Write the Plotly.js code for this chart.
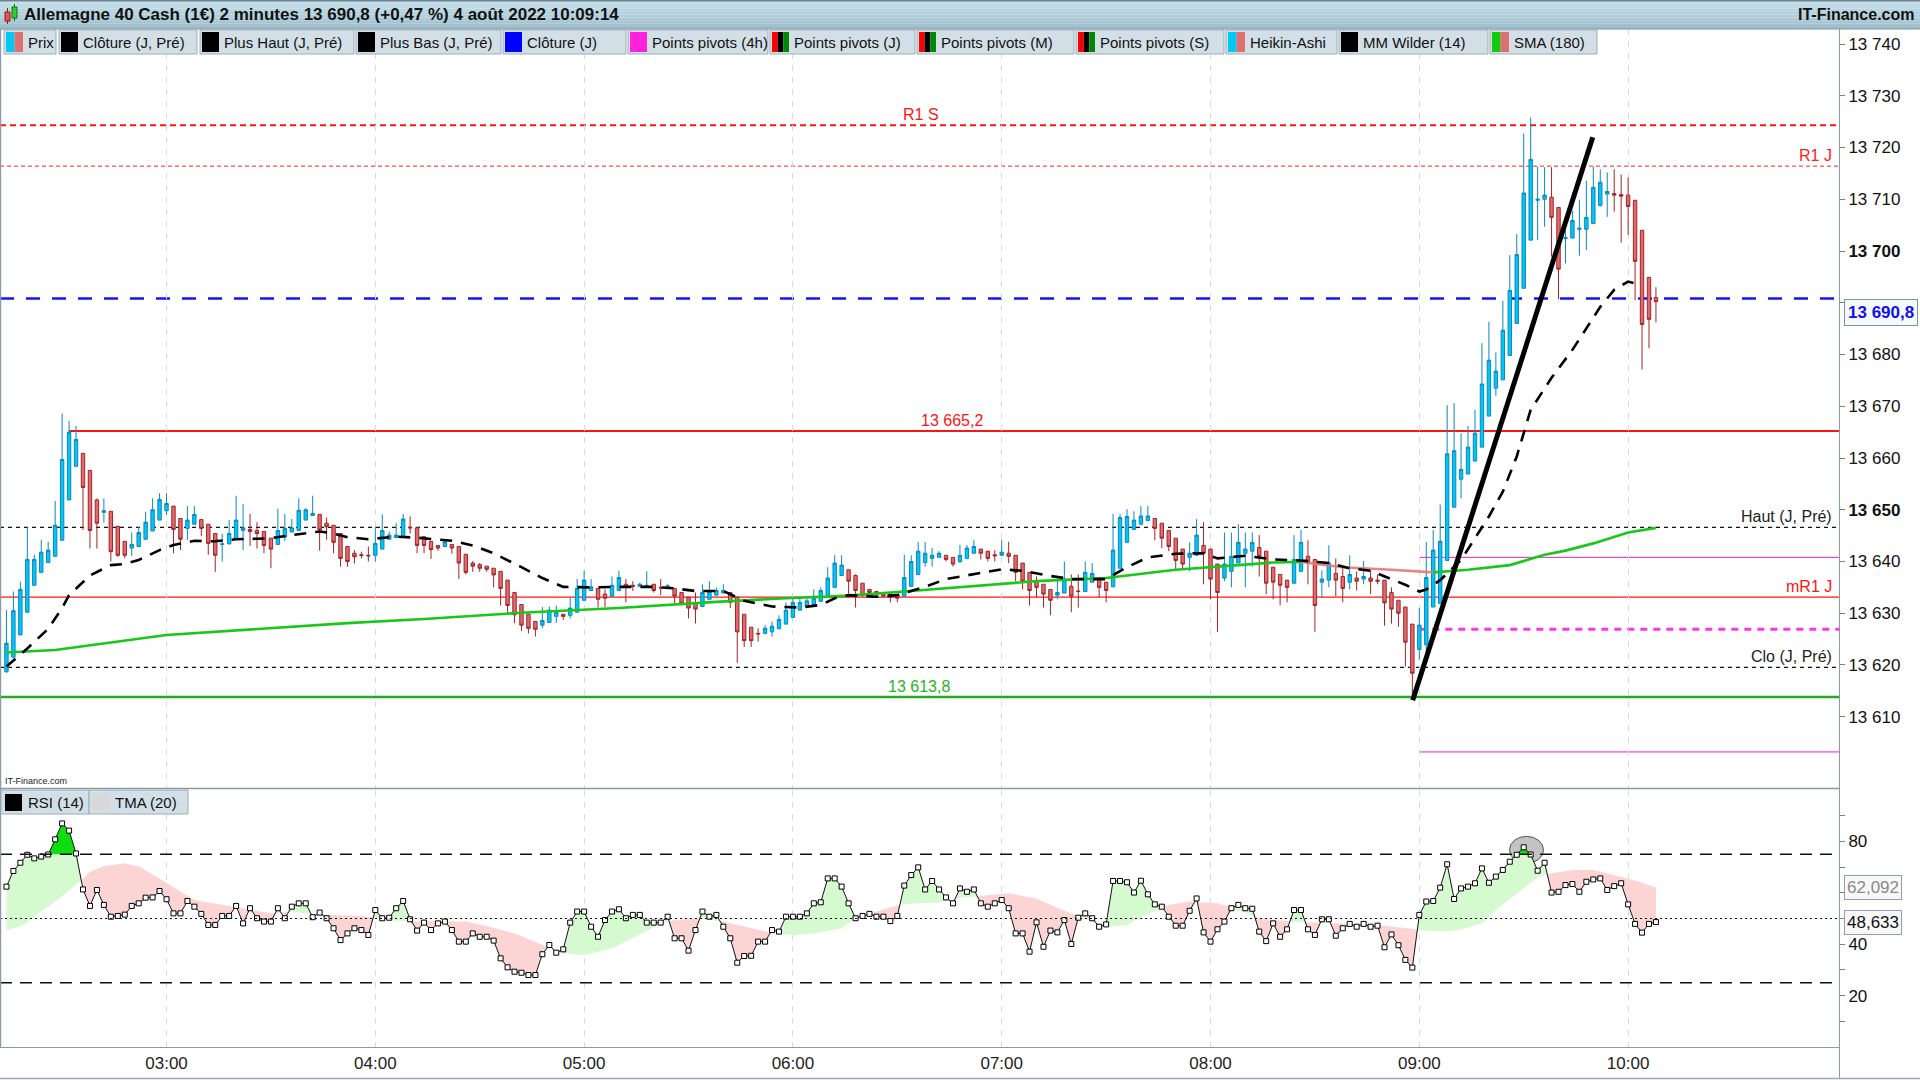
<!DOCTYPE html>
<html><head><meta charset="utf-8">
<script src="https://cdn.plot.ly/plotly-3.0.1.min.js"></script>
<style>html,body{margin:0;padding:0;background:#fff;overflow:hidden}#chart{width:1920px;height:1080px}</style>
</head><body><div id="chart"></div>
<script>
// ---------- DATA ----------
const barStart = '2022-08-04 02:14';
const barMinutes = 2;
const openP = [
13618.7,13621.5,13625.8,13630.2,13635.4,13637.9,13639.8,13641.0,13644.1,13651.9,
13658.4,13660.9,13657.6,13651.9,13649.5,13649.7,13646.8,13643.9,13642.6,13642.9,
13644.3,13645.9,13648.0,13649.8,13650.7,13648.3,13646.4,13647.2,13648.1,13647.2,
13645.4,13643.3,13643.4,13644.3,13646.0,13646.2,13646.0,13645.8,13644.5,13643.3,
13644.7,13645.7,13646.0,13648.0,13648.9,13649.1,13647.4,13647.0,13645.4,13642.9,
13641.6,13641.3,13641.2,13641.2,13642.4,13644.3,13644.6,13644.8,13646.6,13646.5,
13644.8,13643.9,13643.1,13642.9,13643.3,13642.9,13641.4,13639.7,13639.4,13639.1,
13638.7,13638.1,13636.4,13634.0,13631.7,13629.8,13628.4,13627.7,13628.2,13629.4,
13629.8,13629.6,13630.2,13632.5,13634.4,13634.8,13633.7,13633.3,13634.4,13635.6,
13635.4,13635.2,13635.0,13635.6,13635.0,13634.8,13634.8,13634.0,13633.1,13631.9,
13631.3,13632.7,13633.5,13633.9,13634.0,13633.1,13629.8,13627.3,13626.1,13626.1,
13626.4,13627.0,13627.9,13629.2,13630.6,13631.3,13631.7,13632.3,13633.5,13635.0,
13637.3,13638.4,13637.3,13635.8,13634.6,13634.2,13634.0,13633.7,13633.5,13633.3,
13635.2,13637.5,13639.8,13640.6,13640.8,13641.2,13640.8,13640.0,13640.6,13641.6,
13642.4,13642.0,13641.3,13641.2,13641.6,13641.2,13639.7,13637.9,13636.2,13635.6,
13634.6,13633.5,13633.9,13635.2,13634.3,13634.2,13636.0,13636.9,13636.0,13635.1,
13638.7,13643.7,13646.2,13647.2,13647.9,13648.3,13647.4,13646.0,13644.5,13642.4,
13640.8,13641.2,13643.1,13642.4,13639.5,13636.8,13638.1,13639.7,13641.6,13642.0,
13642.7,13642.0,13638.9,13637.5,13636.4,13635.8,13638.1,13641.0,13640.4,13636.0,
13636.4,13637.7,13637.1,13636.0,13636.8,13636.6,13636.8,13636.4,13636.4,13634.0,
13632.5,13631.2,13627.9,13623.0,13623.9,13631.2,13631.9,13640.2,13650.5,13655.9,
13656.9,13659.4,13662.1,13668.1,13673.5,13675.1,13679.8,13686.0,13692.8,13702.1,
13709.8,13710.0,13710.4,13708.4,13702.4,13702.5,13704.2,13704.2,13705.3,13708.8,
13711.0,13711.1,13710.9,13710.8,13709.8,13704.0,13694.9,13691.0];
const highP = [
13630.6,13634.2,13636.1,13646.6,13641.3,13644.2,13643.8,13651.7,13668.6,13667.2,
13666.2,13660.9,13657.6,13652.2,13652.2,13649.7,13646.8,13643.9,13645.6,13646.7,
13649.6,13652.2,13653.2,13653.2,13650.7,13648.3,13650.7,13650.7,13648.1,13647.2,
13645.4,13645.4,13648.0,13652.7,13651.1,13649.2,13647.6,13645.8,13644.5,13650.2,
13649.2,13648.2,13652.2,13650.3,13652.7,13649.1,13648.5,13647.0,13645.4,13642.9,
13642.2,13641.9,13642.9,13646.7,13649.1,13645.8,13647.4,13649.2,13648.7,13646.5,
13644.8,13643.9,13643.1,13644.0,13643.3,13642.9,13641.4,13640.1,13639.7,13639.1,
13638.7,13638.1,13636.4,13634.0,13631.7,13629.8,13628.4,13631.2,13631.3,13631.5,
13629.8,13633.1,13636.6,13638.2,13636.6,13634.8,13634.6,13637.1,13638.2,13636.6,
13636.2,13635.9,13638.1,13635.6,13636.6,13635.6,13634.8,13634.0,13633.1,13634.0,
13635.6,13636.2,13635.0,13635.6,13634.0,13633.1,13629.8,13627.3,13627.1,13627.7,
13628.4,13629.6,13632.1,13633.1,13633.1,13633.1,13634.6,13635.0,13638.9,13641.2,
13641.2,13638.4,13637.5,13635.8,13634.6,13634.2,13634.0,13634.0,13633.5,13641.3,
13641.2,13643.8,13643.8,13642.6,13642.0,13641.2,13640.8,13643.2,13643.2,13644.2,
13642.4,13642.0,13642.2,13644.2,13643.8,13641.2,13639.7,13637.9,13637.1,13635.6,
13634.6,13636.2,13640.0,13637.5,13637.5,13640.0,13639.7,13636.9,13636.0,13649.2,
13649.2,13650.1,13649.7,13650.7,13650.7,13648.3,13647.4,13646.0,13644.5,13642.4,
13643.7,13648.2,13647.6,13642.4,13639.5,13645.6,13645.6,13647.2,13645.6,13645.6,
13645.1,13642.0,13638.9,13637.5,13636.4,13645.1,13646.1,13644.1,13640.4,13638.3,
13643.1,13640.6,13639.1,13641.2,13638.1,13640.1,13638.3,13637.5,13636.4,13635.0,
13632.5,13631.2,13627.9,13631.0,13643.8,13646.1,13651.0,13670.2,13670.6,13664.8,
13666.2,13669.3,13682.2,13686.3,13680.4,13690.4,13699.2,13703.3,13722.7,13725.8,
13716.3,13716.2,13716.2,13708.4,13704.1,13707.8,13709.9,13713.6,13716.3,13715.8,
13715.2,13715.8,13714.8,13714.2,13709.8,13704.0,13694.9,13693.0];
const lowP = [
13618.5,13621.5,13625.8,13630.2,13635.4,13637.9,13639.8,13641.0,13644.1,13651.9,
13658.4,13646.1,13642.5,13642.5,13647.5,13640.0,13640.9,13640.6,13641.1,13642.9,
13644.3,13645.9,13648.0,13649.0,13641.6,13642.2,13644.2,13647.2,13644.9,13641.3,
13638.0,13640.0,13643.4,13644.3,13642.2,13643.0,13642.5,13641.6,13638.7,13643.3,
13644.0,13645.7,13646.0,13648.0,13648.9,13642.1,13644.2,13641.6,13639.0,13639.0,
13639.6,13640.6,13640.0,13640.0,13642.4,13644.3,13644.6,13644.8,13645.4,13641.6,
13641.6,13640.5,13642.1,13642.9,13641.5,13636.6,13637.5,13638.0,13638.0,13638.0,
13635.0,13631.5,13629.7,13628.1,13626.6,13626.1,13625.5,13627.1,13628.2,13628.1,
13628.7,13629.0,13630.2,13632.5,13634.4,13631.1,13631.1,13633.3,13634.4,13632.1,
13634.3,13635.2,13635.0,13634.0,13633.5,13634.8,13631.6,13631.5,13629.0,13628.0,
13631.3,13632.7,13633.5,13633.9,13631.0,13620.4,13623.5,13623.5,13624.5,13626.1,
13625.5,13627.0,13627.9,13629.2,13630.6,13631.3,13631.7,13632.3,13633.5,13635.0,
13637.3,13633.8,13631.1,13633.1,13633.1,13633.1,13633.1,13632.1,13632.1,13633.3,
13635.2,13637.5,13639.0,13639.0,13640.8,13640.0,13639.0,13639.7,13640.6,13641.6,
13640.4,13640.0,13640.0,13641.2,13639.7,13636.2,13634.6,13631.5,13633.1,13631.1,
13629.6,13632.7,13633.9,13630.2,13631.1,13634.2,13636.0,13633.1,13632.1,13635.1,
13638.7,13643.7,13646.2,13647.2,13647.9,13644.1,13642.6,13642.0,13638.5,13638.5,
13638.1,13641.2,13635.6,13632.7,13626.4,13636.2,13635.0,13639.7,13635.0,13639.0,
13637.1,13633.7,13632.7,13631.5,13632.1,13635.8,13638.1,13635.6,13626.4,13633.1,
13635.0,13633.3,13632.1,13634.6,13634.4,13635.6,13633.7,13635.6,13627.6,13628.0,
13627.4,13619.7,13613.3,13621.0,13622.0,13631.2,13631.9,13640.2,13650.5,13652.2,
13656.9,13659.4,13662.1,13668.1,13672.0,13675.1,13679.8,13686.0,13692.8,13702.1,
13702.1,13704.7,13698.9,13690.7,13697.6,13702.5,13699.1,13700.2,13705.3,13708.6,
13706.6,13707.6,13701.6,13703.1,13690.5,13677.1,13681.2,13686.2];
const closeP = [
13624.2,13630.5,13634.6,13640.4,13640.4,13641.8,13642.2,13647.0,13659.7,13665.0,
13663.6,13654.3,13646.0,13647.4,13649.8,13641.9,13641.2,13641.2,13643.3,13645.6,
13647.6,13650.0,13652.0,13651.2,13646.2,13644.3,13648.0,13649.1,13646.4,13643.5,
13641.2,13643.4,13645.4,13648.0,13646.5,13645.8,13645.4,13643.1,13642.4,13646.0,
13646.4,13646.5,13649.9,13650.0,13649.3,13646.1,13646.7,13643.7,13640.6,13640.0,
13640.9,13641.2,13641.1,13643.5,13646.0,13645.1,13645.1,13648.2,13646.5,13643.1,
13643.1,13642.3,13642.6,13643.8,13642.6,13639.7,13637.9,13639.1,13638.7,13638.5,
13637.4,13634.8,13631.5,13629.7,13627.7,13627.1,13626.9,13628.6,13630.6,13630.2,
13629.4,13631.0,13634.8,13636.4,13635.1,13632.7,13632.9,13635.4,13636.9,13635.0,
13635.2,13635.6,13635.4,13634.4,13634.9,13635.3,13633.3,13631.9,13631.0,13630.8,
13634.0,13634.2,13634.4,13634.4,13632.1,13626.4,13624.7,13624.7,13626.0,13627.1,
13627.5,13628.8,13630.6,13632.1,13632.1,13632.4,13632.9,13634.4,13636.8,13639.7,
13639.3,13636.2,13634.4,13633.5,13634.0,13633.7,13633.3,13633.1,13632.9,13636.9,
13640.0,13642.0,13641.6,13641.2,13641.6,13640.4,13639.5,13641.2,13642.6,13642.9,
13641.6,13640.6,13641.1,13641.8,13641.0,13637.9,13636.2,13634.4,13635.0,13633.7,
13632.5,13634.0,13636.6,13633.3,13634.2,13637.9,13637.7,13635.0,13634.4,13642.2,
13648.5,13648.7,13648.0,13648.8,13648.8,13646.4,13644.5,13642.9,13640.2,13639.5,
13641.6,13645.1,13641.6,13636.6,13634.0,13639.5,13641.0,13643.7,13642.4,13643.7,
13641.0,13635.8,13636.0,13635.4,13635.0,13640.4,13643.7,13639.8,13631.5,13636.6,
13639.7,13636.4,13634.8,13637.5,13636.2,13637.1,13636.2,13636.2,13632.0,13630.8,
13630.0,13624.4,13618.4,13627.7,13636.9,13642.2,13643.9,13660.8,13661.4,13657.8,
13662.1,13664.8,13674.3,13678.9,13676.8,13684.7,13692.4,13699.3,13711.2,13717.7,
13710.0,13710.8,13706.5,13696.5,13702.6,13705.9,13704.4,13706.5,13712.3,13713.3,
13711.5,13710.8,13710.6,13708.6,13698.0,13685.8,13686.8,13690.2];

const wilderBars = [0,3,6,8,9,12,15,17,19,22,24,27,30,33,36,38,41,45,47,49,52,56,59,64,67,70,74,77,80,84,88,93,96,99,103,106,110,114,117,119,121,125,128,132,135,139,143,146,150,153,158,161,164,168,172,174,178,182,186,190,193,196,199,201,203,204,206,209,211,213,215,217,219,222,225,227,229,231,233,235];
const wilderValues = [13619.7,13623.2,13627.0,13631.0,13633.5,13637.3,13639.3,13639.5,13640.3,13642.2,13643.2,13644.0,13643.9,13644.3,13644.4,13644.5,13645.1,13645.8,13645.4,13644.7,13644.3,13644.8,13644.6,13644.0,13643.1,13641.6,13638.9,13636.8,13635.1,13635.0,13635.1,13635.1,13634.8,13634.3,13634.3,13632.4,13631.3,13631.1,13631.6,13632.9,13633.5,13633.2,13633.5,13635.1,13636.6,13637.6,13638.5,13638.2,13637.2,13636.6,13636.6,13638.9,13640.8,13641.5,13641.6,13640.6,13641.1,13640.4,13640.2,13639.7,13638.7,13638.2,13636.6,13635.5,13634.2,13634.6,13636.4,13640.3,13644.5,13648.7,13653.5,13660.3,13669.3,13675.5,13680.9,13685.1,13689.2,13692.5,13694.1,13693.4];

const smaBars = [0,7,23,37,49,60,74,88,102,112,121,129,139,148,158,168,177,182,186,192,199,205,210,216,221,224,228,233,237];
const smaValues = [13622.4,13622.9,13625.8,13627.1,13628.1,13628.9,13630.1,13631.0,13632.2,13632.9,13633.4,13634.2,13635.3,13636.2,13636.8,13638.4,13639.3,13639.8,13639.9,13638.9,13638.4,13637.9,13638.4,13639.3,13641.3,13642.1,13643.5,13645.6,13646.5];

const rsiValues = [
62.4,68.5,71.7,74.8,73.4,74.1,74.9,80.8,87.0,84.2,
75.3,61.3,54.9,61.1,55.3,50.7,51.0,51.5,54.9,55.9,
58.1,58.2,60.7,57.5,52.0,52.0,56.8,54.6,51.8,47.5,
47.5,51.0,51.0,54.9,48.1,54.0,50.1,48.8,48.8,54.0,
50.1,54.6,55.9,55.9,50.5,52.3,50.1,46.2,41.6,44.2,
46.2,45.5,43.6,53.3,50.1,50.3,54.0,56.8,49.7,45.3,
48.4,45.5,48.1,48.8,45.5,41.0,41.0,44.2,42.9,42.9,
41.4,34.5,31.0,29.3,28.9,28.0,28.0,36.1,39.7,36.7,
38.0,48.4,52.7,52.7,46.8,42.9,49.4,52.7,53.6,50.1,
51.4,51.4,48.4,48.4,48.4,50.7,42.3,42.3,37.5,45.5,
52.7,50.7,51.4,46.8,42.3,32.8,35.4,35.5,41.0,41.0,
45.5,44.9,50.7,50.7,50.7,52.0,55.9,56.3,65.6,65.6,
62.4,55.9,50.1,51.0,51.8,50.7,50.7,49.0,51.0,62.8,
66.9,69.9,61.3,64.6,61.3,58.2,55.9,61.7,60.4,61.3,
55.9,54.6,55.9,57.2,54.0,44.2,44.2,37.1,48.5,39.0,
45.3,44.6,49.4,40.1,50.3,52.0,50.1,46.8,47.7,64.6,
64.6,64.1,60.1,64.7,59.4,55.5,54.6,50.7,47.2,47.2,
53.0,57.8,44.6,41.0,45.8,48.8,54.0,55.3,54.0,53.8,
44.9,41.2,48.1,42.9,45.8,53.3,53.3,45.8,43.6,49.7,
49.7,43.3,46.2,47.9,46.8,47.9,46.8,47.2,38.8,43.8,
39.6,33.9,30.9,51.4,56.6,56.8,62.0,71.1,57.6,61.7,
62.4,63.7,69.5,63.9,66.3,68.9,72.1,74.8,77.7,74.9,
68.6,71.7,60.1,60.4,63.0,63.4,60.4,64.3,65.2,65.6,
61.1,62.6,63.7,55.5,47.9,44.5,47.9,48.6];

const tmaBars = [0,2,4,7,10,12,14,17,19,22,25,27,31,34,38,41,44,48,52,55,58,62,66,69,73,77,80,83,87,91,94,96,99,103,106,110,113,116,120,122,125,128,130,134,137,141,144,148,151,155,158,161,163,167,170,174,177,180,184,188,192,197,200,203,207,209,212,214,217,220,222,225,228,230,233,235,237];
const tmaValues = [45.5,46.8,50.7,56.6,63.0,68.2,70.4,71.5,70.2,65.6,60.4,57.2,55.3,54.0,52.0,52.7,51.6,51.4,50.7,49.4,48.8,49.0,48.8,47.1,44.2,39.7,36.4,35.8,38.4,43.6,48.1,49.4,50.1,48.8,46.8,44.5,43.6,44.2,46.2,50.1,52.7,55.3,55.9,56.2,58.0,59.1,59.8,57.8,54.0,50.1,46.8,47.5,50.7,55.3,56.6,55.9,53.3,50.1,48.8,48.4,48.1,47.5,46.6,45.5,44.9,45.8,48.1,53.3,59.8,66.0,67.6,68.9,68.9,67.6,65.6,63.9,62.1];

const levelValues = [13724.3, 13716.4, 13690.8, 13665.2, 13646.6, 13640.8, 13633.1, 13626.9, 13619.55, 13613.8, 13603.2];
const levelLabels = ['R1 S', 'R1 J', '', '#', 'Haut (J, Pré)', '', 'mR1 J', '', 'Clo (J, Pré)', '#', ''];
const rsiLevels = [75, 50, 25];
const trendTimes = ['2022-08-04 08:58:06', '2022-08-04 09:49:50'];
const trendPrices = [13613.2, 13722.0];
const priceTicks = [13610,13620,13630,13640,13650,13660,13670,13680,13690,13700,13710,13720,13730,13740];
const rsiTicks = [10,20,30,40,50,60,70,80,90];
const rsiTickLabels = ['','20','','40','','','','80',''];
const hourTicks = ['03:00','04:00','05:00','06:00','07:00','08:00','09:00','10:00'];
const lastPrice = 13690.8, lastRsi = 48.633, lastTma = 62.092;
const titleText = 'Allemagne 40 Cash (1€) 2 minutes 13 690,8 (+0,47 %) 4 août 2022 10:09:14';
const legendNames = ['Prix','Clôture (J, Pré)','Plus Haut (J, Pré)','Plus Bas (J, Pré)','Clôture (J)','Points pivots (4h)','Points pivots (J)','Points pivots (M)','Points pivots (S)','Heikin-Ashi','MM Wilder (14)','SMA (180)'];

// ---------- HELPERS ----------
const W = 1920, H = 1080;
const px = x => x / W, py = y => 1 - y / H;
const baseMs = Date.parse(barStart.replace(' ', 'T') + ':00Z');
const stepMs = barMinutes * 60000;
const tstr = ms => new Date(ms).toISOString().slice(0, 23).replace('T', ' ');
const barT = i => tstr(baseMs + i * stepMs);
const N = openP.length;
const barTimes = openP.map((_, i) => barT(i));
const xr = ['2022-08-04 02:12:09', '2022-08-04 11:00:36'];
const frNum = (v, d) => { const s = v.toFixed(d).split('.'); const a = s[0].replace(/\B(?=(\d{3})+(?!\d))/g, ' '); return s[1] ? a + ',' + s[1] : a; };
const FONT = 'Liberation Sans, Arial, sans-serif';

const shapes = [], ann = [];
function rect(x0, y0, x1, y1, fill, lc, lw) {
  shapes.push({type:'rect', xref:'paper', yref:'paper', x0:px(x0), x1:px(x1), y0:py(y1), y1:py(y0),
    fillcolor:fill, line:{color:lc || fill, width:lw === undefined ? 0 : lw}, layer:'above'});
}
function hline(x0, x1, y, color, w) {
  shapes.push({type:'line', xref:'paper', yref:'paper', x0:px(x0), x1:px(x1), y0:py(y), y1:py(y), line:{color, width:w}, layer:'above'});
}
function vline(x, y0, y1, color, w) {
  shapes.push({type:'line', xref:'paper', yref:'paper', x0:px(x), x1:px(x), y0:py(y0), y1:py(y1), line:{color, width:w}, layer:'above'});
}
function text(x, y, t, size, color, xa, extra) {
  ann.push(Object.assign({xref:'paper', yref:'paper', x:px(x), y:py(y), text:t, showarrow:false,
    xanchor:xa || 'left', yanchor:'middle', font:{family:FONT, size, color}}, extra || {}));
}

// ---------- TITLE BAR ----------
const gTop = [198, 224, 235], gBot = [158, 190, 203];
for (let s = 0; s < 10; s++) {
  const f = s / 9; const c = gTop.map((v, j) => Math.round(v + (gBot[j] - v) * f));
  rect(0, s * 2.9, W, s * 2.9 + 3, `rgb(${c.join(',')})`);
}
hline(0, W, 0.8, '#6d838f', 1.6);
hline(0, W, 29, '#7d95a1', 1.2);
// icon
vline(7.5, 8, 24, '#8b1a1a', 1); rect(5, 12, 10, 21, '#e05555', '#8b1a1a', 1);
vline(14.5, 4, 21, '#127012', 1); rect(12, 7, 17, 18, '#33cc33', '#127012', 1);
text(22, 15, '<b>' + titleText + '</b>', 17, '#111');
text(1916, 15, '<b>IT-Finance.com</b>', 16, '#111', 'right');

// ---------- LEGEND ROW ----------
const legBoxes = [[4,56],[59,197],[200,354],[356,501],[503,626],[628,768],[770,915],[917,1074],[1076,1224],[1226,1337],[1339,1488],[1490,1597]];
const PIV = ['#ff0000','#000000','#008800'];
const legSw = [['#00c8f5','#e07070'],['#000'],['#000'],['#000'],['#0000ff'],['#ff22dd'],PIV,PIV,PIV,['#00c8f5','#e07070'],['#000'],['#10cc10','#e07070']];
legendNames.forEach((nm, i) => {
  const [a, b] = legBoxes[i];
  rect(a, 30, b, 54, '#d2dfe7', '#9badb8', 1);
  const sw = legSw[i], wEach = 17 / sw.length;
  sw.forEach((c, j) => rect(a + 2 + j * wEach, 32, a + 2 + (j + 1) * wEach, 52, c));
  text(a + 22, 42.5, nm, 15, '#111');
});

// ---------- MAIN PANEL ----------
const levelStyle = [
  {c:'#ff1414', w:2, d:'6px,4px', lx:921, la:'center'},
  {c:'#ff2020', w:1, d:'4px,3px', lx:1834, la:'right'},
  {c:'#1414ff', w:2.5, d:'14px,12px'},
  {c:'#ff1414', w:2, d:'solid', from:9, lx:952, la:'center'},
  {c:'#111111', w:1.2, d:'4px,4px', lx:1834, la:'right', lc:'#222'},
  {c:'#ee22cc', w:1, d:'solid', from:203},
  {c:'#ff1414', w:1.2, d:'solid', lx:1834, la:'right'},
  {c:'#ff33ee', w:3, d:'7px,6px', from:203},
  {c:'#111111', w:1.2, d:'4px,4px', lx:1834, la:'right', lc:'#222'},
  {c:'#22aa22', w:2.5, d:'solid', lx:919, la:'center', lc:'#1fb51f'},
  {c:'#ee22cc', w:1, d:'solid', from:203}
];
levelValues.forEach((v, i) => {
  const st = levelStyle[i];
  shapes.push({type:'line', xref:'x', yref:'y', x0: st.from !== undefined ? barTimes[st.from] : xr[0], x1:xr[1], y0:v, y1:v,
    line:{color:st.c, width:st.w, dash:st.d}, layer:'below'});
  if (levelLabels[i]) {
    const t = levelLabels[i] === '#' ? frNum(v, 1) : levelLabels[i];
    ann.push({xref:'paper', yref:'y', x:px(st.lx), y:v, text:t, showarrow:false, xanchor:st.la, yanchor:'bottom',
      yshift:0, font:{family:FONT, size:16, color:st.lc || st.c}});
  }
});
// trend line (drawing)
shapes.push({type:'line', xref:'x', yref:'y', x0:trendTimes[0], y0:trendPrices[0], x1:trendTimes[1], y1:trendPrices[1],
  line:{color:'#000', width:5}, layer:'above'});

const data = [];
data.push({type:'candlestick', x:barTimes, open:openP, high:highP, low:lowP, close:closeP, xaxis:'x', yaxis:'y',
  increasing:{fillcolor:'#00c6f4', line:{color:'#0a88c0', width:1}},
  decreasing:{fillcolor:'#e26a6a', line:{color:'#a0252a', width:1}},
  whiskerwidth:0, hoverinfo:'skip', showlegend:false});

// SMA 180: green when rising, salmon when falling
let segStart = 0;
for (let j = 1; j < smaBars.length; j++) {
  const dir = smaValues[j] >= smaValues[j - 1];
  const nextDir = j + 1 < smaBars.length ? smaValues[j + 1] >= smaValues[j] : null;
  if (nextDir === null || nextDir !== dir) {
    const idx = []; for (let k = segStart; k <= j; k++) idx.push(k);
    data.push({type:'scatter', mode:'lines', x:idx.map(k => barTimes[smaBars[k]]), y:idx.map(k => smaValues[k]),
      xaxis:'x', yaxis:'y', line:{color: dir ? '#18c818' : 'rgba(228,120,120,0.9)', width:2.6}, hoverinfo:'skip'});
    segStart = j;
  }
}
// MM Wilder
data.push({type:'scatter', mode:'lines', x:wilderBars.map(b => barTimes[b]), y:wilderValues, xaxis:'x', yaxis:'y',
  line:{color:'#000', width:2.6, dash:'12px,9px'}, hoverinfo:'skip'});

// ---------- RSI PANEL ----------
function tmaAt(i) {
  for (let j = 0; j < tmaBars.length - 1; j++) {
    if (i >= tmaBars[j] && i <= tmaBars[j + 1]) {
      const f = (i - tmaBars[j]) / (tmaBars[j + 1] - tmaBars[j]);
      return tmaValues[j] + f * (tmaValues[j + 1] - tmaValues[j]);
    }
  }
  return i < tmaBars[0] ? tmaValues[0] : tmaValues[tmaValues.length - 1];
}
function band(ref) {
  const pts = [];
  for (let i = 0; i < N; i++) {
    const r = rsiValues[i], t = ref(i);
    pts.push({i, r, t});
    if (i < N - 1) {
      const r2 = rsiValues[i + 1], t2 = ref(i + 1), d1 = r - t, d2 = r2 - t2;
      if (d1 * d2 < 0) { const f = d1 / (d1 - d2); const v = r + f * (r2 - r); pts.push({i:i + f, r:v, t:v}); }
    }
  }
  return pts;
}
const bx = p => tstr(baseMs + p.i * stepMs);
const tb = band(tmaAt);
const inv = {color:'rgba(0,0,0,0)', width:0};
data.push({type:'scatter', mode:'lines', x:tb.map(bx), y:tb.map(p => p.t), xaxis:'x2', yaxis:'y2', line:inv, hoverinfo:'skip'});
data.push({type:'scatter', mode:'lines', x:tb.map(bx), y:tb.map(p => Math.max(p.r, p.t)), xaxis:'x2', yaxis:'y2', line:inv,
  fill:'tonexty', fillcolor:'rgba(214,250,208,1)', hoverinfo:'skip'});
data.push({type:'scatter', mode:'lines', x:tb.map(bx), y:tb.map(p => p.t), xaxis:'x2', yaxis:'y2', line:inv, hoverinfo:'skip'});
data.push({type:'scatter', mode:'lines', x:tb.map(bx), y:tb.map(p => Math.min(p.r, p.t)), xaxis:'x2', yaxis:'y2', line:inv,
  fill:'tonexty', fillcolor:'rgba(252,212,212,1)', hoverinfo:'skip'});
const ob = band(() => rsiLevels[0]);
data.push({type:'scatter', mode:'lines', x:ob.map(bx), y:ob.map(() => rsiLevels[0]), xaxis:'x2', yaxis:'y2', line:inv, hoverinfo:'skip'});
data.push({type:'scatter', mode:'lines', x:ob.map(bx), y:ob.map(p => Math.max(p.r, rsiLevels[0])), xaxis:'x2', yaxis:'y2', line:inv,
  fill:'tonexty', fillcolor:'#10dd10', hoverinfo:'skip'});
data.push({type:'scatter', mode:'lines+markers', x:barTimes, y:rsiValues, xaxis:'x2', yaxis:'y2',
  line:{color:'#111', width:1}, marker:{symbol:'square', size:5, color:'#fff', line:{color:'#000', width:1}}, hoverinfo:'skip'});

rsiLevels.forEach(v => {
  shapes.push({type:'line', xref:'x2', yref:'y2', x0:xr[0], x1:xr[1], y0:v, y1:v,
    line:{color:'#111', width:v === 50 ? 1.2 : 1.5, dash: v === 50 ? '2px,3px' : '12px,8px'}, layer:'above'});
});
// highlight circle on the RSI peak
shapes.push({type:'circle', xref:'x2', yref:'y2', xsizemode:'pixel', ysizemode:'pixel', xanchor:tstr(baseMs + 218.4 * stepMs), yanchor:76.7,
  x0:-17, x1:17, y0:-13.5, y1:13.5, fillcolor:'rgba(175,175,175,0.75)', line:{color:'#555', width:1}, layer:'below'});

// panel frames
hline(0, 1839, 788.5, '#8a9aa6', 1.5);
vline(0.6, 29, 1047, '#8a9aa6', 1.2);
vline(1839.5, 29, 1078, '#8a9aa6', 1);
hline(0, W, 1078.5, '#9aaab5', 1.5);
text(3, 781, 'IT-Finance.com', 9, '#222');
// RSI legend
rect(1, 790, 89, 814, '#d2dfe7', '#9badb8', 1); rect(5, 794, 22, 811, '#000');
text(26, 802.5, 'RSI (14)', 15, '#111');
rect(89, 790, 188, 814, '#d2dfe7', '#9badb8', 1); rect(92, 794, 109, 811, '#d8d8d8');
text(113, 802.5, 'TMA (20)', 15, '#111');

// value tags
ann.push({xref:'paper', yref:'y', x:px(1844), y:lastPrice, yanchor:'top', xanchor:'left', showarrow:false,
  text:'<b>' + frNum(lastPrice, 1) + '</b>', font:{family:FONT, size:17, color:'#1010ee'},
  bgcolor:'#f6f9fb', bordercolor:'#7f929e', borderwidth:1, borderpad:3});
ann.push({xref:'paper', yref:'y2', x:px(1844), y:lastTma, yanchor:'middle', xanchor:'left', showarrow:false,
  text:lastTma.toFixed(3).replace('.', ','), font:{family:FONT, size:17, color:'#8a8a8a'},
  bgcolor:'#f8f8f8', bordercolor:'#8f9ea8', borderwidth:1, borderpad:2});
ann.push({xref:'paper', yref:'y2', x:px(1844), y:lastRsi, yanchor:'middle', xanchor:'left', showarrow:false,
  text:lastRsi.toFixed(3).replace('.', ','), font:{family:FONT, size:17, color:'#111'},
  bgcolor:'#f8f8f8', bordercolor:'#8f9ea8', borderwidth:1, borderpad:2});

const hourVals = hourTicks.map(h => '2022-08-04 ' + h + ':00');
const grid = {showgrid:true, gridcolor:'#d6d9e6', gridwidth:1, griddash:'6px,6px'};
// the tick label under the last-price tag is hidden, as in the reference
const priceTickText = priceTicks.map(v => Math.abs(v - lastPrice) < 5 ? '' : (v % 50 === 0 ? '<b>' + frNum(v, 0) + '</b>' : frNum(v, 0)));
const layout = {
  width:W, height:H, margin:{l:0, r:0, t:0, b:0}, paper_bgcolor:'#fff', plot_bgcolor:'rgba(0,0,0,0)',
  showlegend:false, hovermode:false, font:{family:FONT},
  xaxis:Object.assign({type:'date', domain:[0, 1839 / W], range:xr, anchor:'y', tickvals:hourVals, ticktext:hourTicks,
    showticklabels:false, ticks:'', zeroline:false, showline:false, rangeslider:{visible:false}}, grid),
  yaxis:{domain:[py(788), py(29)], range:[13596.23, 13742.90], anchor:'x', side:'right', tickvals:priceTicks,
    ticktext:priceTickText,
    ticks:'outside', ticklen:5, tickcolor:'#6f7f8a', tickfont:{size:17, color:'#111', family:FONT},
    showgrid:false, zeroline:false, showline:false},
  xaxis2:Object.assign({type:'date', domain:[0, 1839 / W], range:xr, anchor:'y2', tickvals:hourVals, ticktext:hourTicks,
    tickfont:{size:17, color:'#222', family:FONT}, ticks:'', zeroline:false, showline:true, linecolor:'#8a9aa6', linewidth:1.2,
    rangeslider:{visible:false}}, grid),
  yaxis2:{domain:[py(1047), py(790)], range:[0, 100], anchor:'x2', side:'right', tickvals:rsiTicks, ticktext:rsiTickLabels,
    ticks:'outside', ticklen:5, tickcolor:'#6f7f8a', tickfont:{size:17, color:'#111', family:FONT},
    showgrid:false, zeroline:false, showline:false},
  shapes, annotations:ann
};
Plotly.newPlot('chart', data, layout, {staticPlot:true, displayModeBar:false});
</script></body></html>
